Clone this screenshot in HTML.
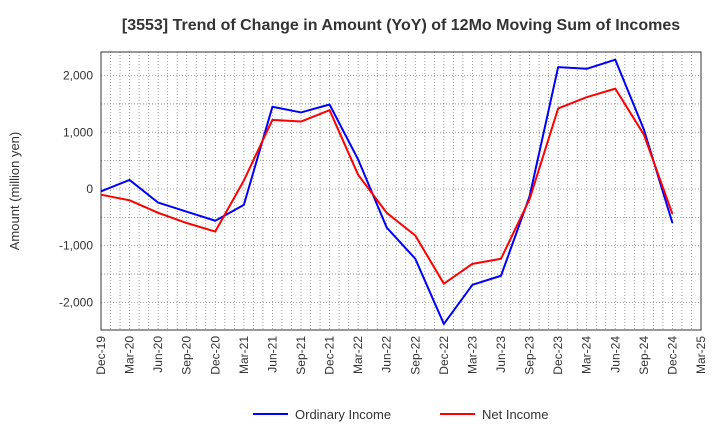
<!DOCTYPE html>
<html><head><meta charset="utf-8"><style>
body{margin:0;background:#fff;font-family:"Liberation Sans",sans-serif}
svg text{font-family:"Liberation Sans",sans-serif}
</style></head><body>
<svg id="chart" width="720" height="440" xmlns="http://www.w3.org/2000/svg">
<text x="401" y="30" text-anchor="middle" font-size="16" font-weight="bold" fill="#333">[3553]  Trend of Change in Amount (YoY) of 12Mo Moving Sum of Incomes</text>
<g id="grid"></g><g id="axes"></g><g id="series"></g>
<text transform="translate(19,191) rotate(-90)" text-anchor="middle" font-size="13" fill="#333">Amount (million yen)</text>
<g>
<line x1="253" y1="414" x2="288" y2="414" stroke="#0000ff" stroke-width="2"/>
<text x="295" y="419" font-size="13" fill="#333">Ordinary Income</text>
<line x1="440" y1="414" x2="475" y2="414" stroke="#ff0000" stroke-width="2"/>
<text x="482" y="419" font-size="13" fill="#333">Net Income</text>
</g>
</svg>
<script>
const xLabels=["Dec-19","Mar-20","Jun-20","Sep-20","Dec-20","Mar-21","Jun-21","Sep-21","Dec-21","Mar-22","Jun-22","Sep-22","Dec-22","Mar-23","Jun-23","Sep-23","Dec-23","Mar-24","Jun-24","Sep-24","Dec-24","Mar-25"];
const yTicks=[-2000,-1000,0,1000,2000];
const ordinaryIncome=[-40,160,-240,-400,-560,-280,1450,1350,1490,520,-680,-1230,-2380,-1690,-1530,-130,2150,2120,2280,1050,-600];
const netIncome=[-100,-200,-420,-600,-750,150,1220,1190,1390,250,-420,-820,-1670,-1320,-1230,-180,1420,1620,1770,960,-440];
const L=101,R=701,T=52,B=330;
const xs=i=>L+i*(R-L)/(xLabels.length-1);
const ys=v=>189-v*0.0567;
const NS="http://www.w3.org/2000/svg";
function mk(tag,attrs,parent){const e=document.createElementNS(NS,tag);for(const k in attrs)e.setAttribute(k,attrs[k]);parent.appendChild(e);return e;}
const grid=document.getElementById('grid'),axes=document.getElementById('axes'),series=document.getElementById('series');
for(let m=0;m<=(xLabels.length-1)*3;m++){const x=L+m*(R-L)/((xLabels.length-1)*3);
const g=mk('line',{x1:x,x2:x,y1:T,y2:B,stroke:'#888','stroke-width':0.8,'stroke-dasharray':'1,2'},grid);

}
for(let v=-2500;v<=2500;v+=500){const y=ys(v);if(y<T||y>B)continue;
const g=mk('line',{x1:L,x2:R,y1:y,y2:y,stroke:'#888','stroke-width':0.8,'stroke-dasharray':'1,2'},grid);

}
const frame=mk('rect',{x:L,y:T,width:R-L,height:B-T,fill:'none',stroke:'#333','stroke-width':1},axes);


yTicks.forEach(v=>{const y=ys(v);
const t=mk('text',{x:L-8,y:y+4,'text-anchor':'end','font-size':12,fill:'#333'},axes);t.textContent=v.toLocaleString('en-US');

});
xLabels.forEach((s,i)=>{const x=xs(i);
const t=mk('text',{transform:`translate(${x+4},${B+6}) rotate(-90)`,'text-anchor':'end','font-size':12,fill:'#333'},axes);t.textContent=s;

});
function line(data,color,name){const p=mk('polyline',{points:data.map((v,i)=>xs(i)+','+ys(v)).join(' '),fill:'none',stroke:color,'stroke-width':2,'stroke-linejoin':'round'},series);

}
line(ordinaryIncome,'#0000ff','ordinary-income-line');
line(netIncome,'#ff0000','net-income-line');
</script>
</body></html>
